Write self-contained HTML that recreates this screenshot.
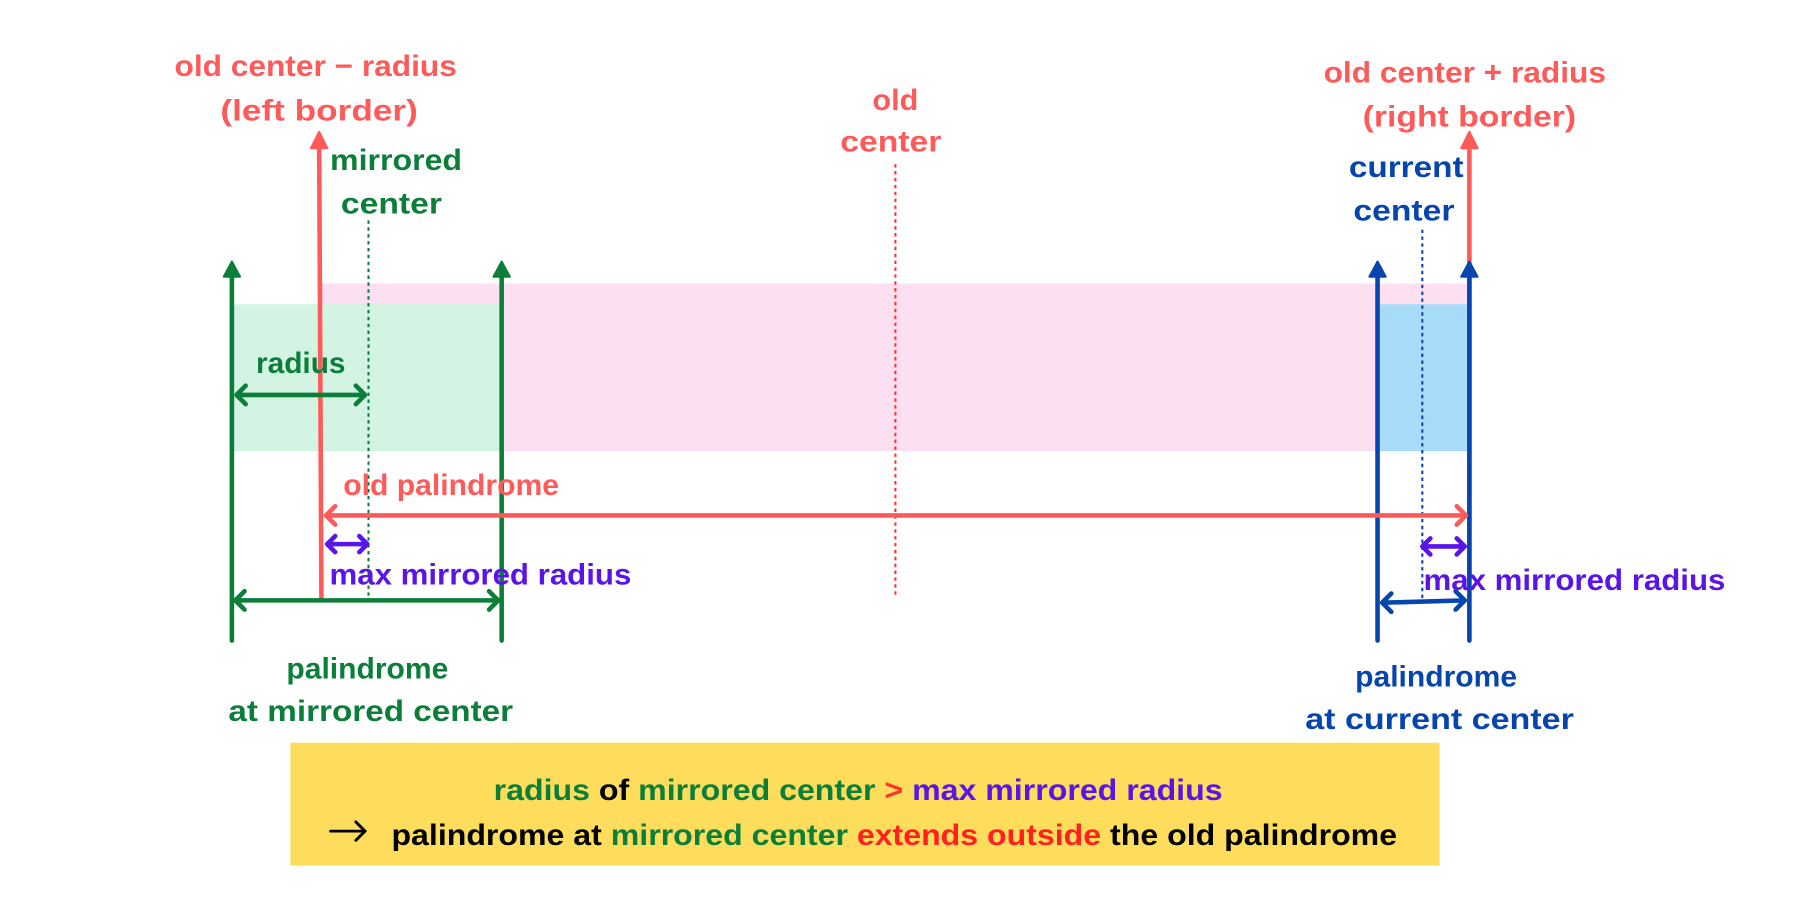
<!DOCTYPE html>
<html><head><meta charset="utf-8"><style>
html,body{margin:0;padding:0;background:#fff;width:1800px;height:900px;overflow:hidden}
svg{display:block}
text{font-family:"Liberation Sans",sans-serif;font-weight:bold;font-size:26px}
</style></head><body>
<svg width="1800" height="900" viewBox="0 0 1568 784" xmlns="http://www.w3.org/2000/svg">
<g>
<rect x="280" y="247" width="1000" height="146" fill="#FDDFF2"/>
<rect x="202" y="265" width="235" height="128" fill="#D3F3E3"/>
<rect x="1200" y="265" width="80" height="128" fill="#A8DBF8"/>
</g>
<g fill="none" stroke-width="1.8" stroke-dasharray="3,3">
<line x1="321" y1="192" x2="321" y2="521" stroke="#0B7F3A"/>
<line x1="780" y1="143" x2="780" y2="521" stroke="#FF3030"/>
<line x1="1239" y1="200" x2="1239" y2="521" stroke="#0645AD"/>
</g>
<g fill="none" stroke-width="4" stroke-linecap="round" stroke-linejoin="round">
<path d="M202,558 V232" stroke="#0B7F3A"/>
<path d="M195,241 L202,228 L209,241 Z" fill="#0B7F3A" stroke="#0B7F3A" stroke-width="2"/>
<path d="M437,558 V232" stroke="#0B7F3A"/>
<path d="M430,241 L437,228 L444,241 Z" fill="#0B7F3A" stroke="#0B7F3A" stroke-width="2"/>
<path d="M280,521 L278,120" stroke="#FF5A5A"/>
<path d="M271,129 L278,115 L285,129 Z" fill="#FF5A5A" stroke="#FF5A5A" stroke-width="2"/>
<path d="M1280,505 V120" stroke="#FF5A5A"/>
<path d="M1273,129 L1280,115 L1287,129 Z" fill="#FF5A5A" stroke="#FF5A5A" stroke-width="2"/>
<path d="M1200,558 V232" stroke="#0645AD"/>
<path d="M1193,241 L1200,228 L1207,241 Z" fill="#0645AD" stroke="#0645AD" stroke-width="2"/>
<path d="M1280,558 V232" stroke="#0645AD"/>
<path d="M1273,241 L1280,228 L1287,241 Z" fill="#0645AD" stroke="#0645AD" stroke-width="2"/>

<path d="M206,344 H318 M214,336 L206,344 L214,352 M310,336 L318,344 L310,352" stroke="#0B7F3A"/>
<path d="M284,449 H1277 M292,441 L284,449 L292,457 M1269,441 L1277,449 L1269,457" stroke="#FF5A5A"/>
<path d="M285,474 H320 M292,467 L285,474 L292,481 M313,467 L320,474 L313,481" stroke="#5B14E8"/>
<path d="M1239,476 H1276 M1246,469 L1239,476 L1246,483 M1269,469 L1276,476 L1269,483" stroke="#5B14E8"/>
<path d="M205,523 H434 M213,515 L205,523 L213,531 M426,515 L434,523 L426,531" stroke="#0B7F3A"/>
<path d="M1204,525 L1276,523 M1212,517 L1204,525 L1212,533 M1268,515 L1276,523 L1268,531" stroke="#0645AD"/>
</g>
<g text-anchor="middle" lengthAdjust="spacingAndGlyphs">
<text x="275" y="66" fill="#FF5A5A" textLength="246" lengthAdjust="spacingAndGlyphs">old center − radius</text>
<text x="278" y="105" fill="#FF5A5A" textLength="172" lengthAdjust="spacingAndGlyphs">(left border)</text>
<text x="345" y="148" fill="#0B7F3A" textLength="115" lengthAdjust="spacingAndGlyphs">mirrored</text>
<text x="341" y="186" fill="#0B7F3A" textLength="88" lengthAdjust="spacingAndGlyphs">center</text>
<text x="780" y="96" fill="#FF5A5A" textLength="40" lengthAdjust="spacingAndGlyphs">old</text>
<text x="776" y="132" fill="#FF5A5A" textLength="88" lengthAdjust="spacingAndGlyphs">center</text>
<text x="1276" y="72" fill="#FF5A5A" textLength="246" lengthAdjust="spacingAndGlyphs">old center + radius</text>
<text x="1280" y="110" fill="#FF5A5A" textLength="186" lengthAdjust="spacingAndGlyphs">(right border)</text>
<text x="1225" y="154" fill="#0645AD" textLength="100" lengthAdjust="spacingAndGlyphs">current</text>
<text x="1223" y="192" fill="#0645AD" textLength="88" lengthAdjust="spacingAndGlyphs">center</text>
<text x="262" y="325" fill="#0B7F3A" textLength="78" lengthAdjust="spacingAndGlyphs">radius</text>
<text x="393" y="431" fill="#FF5A5A" textLength="188" lengthAdjust="spacingAndGlyphs">old palindrome</text>
<text x="320" y="591" fill="#0B7F3A" textLength="141" lengthAdjust="spacingAndGlyphs">palindrome</text>
<text x="323" y="628" fill="#0B7F3A" textLength="248" lengthAdjust="spacingAndGlyphs">at mirrored center</text>
<text x="1251" y="598" fill="#0645AD" textLength="141" lengthAdjust="spacingAndGlyphs">palindrome</text>
<text x="1254" y="635" fill="#0645AD" textLength="234" lengthAdjust="spacingAndGlyphs">at current center</text>
</g>
<text x="287" y="509" fill="#5B14E8" textLength="263" lengthAdjust="spacingAndGlyphs">max mirrored radius</text>
<text x="1240" y="514" fill="#5B14E8" textLength="263" lengthAdjust="spacingAndGlyphs">max mirrored radius</text>
<rect x="253" y="647" width="1001" height="107" fill="#FFDD5C"/>
<text x="430" y="697" textLength="635" lengthAdjust="spacingAndGlyphs"><tspan fill="#0B7F3A">radius </tspan><tspan fill="#000">of </tspan><tspan fill="#0B7F3A">mirrored center </tspan><tspan fill="#FF3030">&gt; </tspan><tspan fill="#5B14E8">max mirrored radius</tspan></text>
<path d="M288,724 H318 M310,716 L318,724 L310,732" fill="none" stroke="#000" stroke-width="2.5" stroke-linecap="round"/>
<text x="341" y="736" textLength="876" lengthAdjust="spacingAndGlyphs"><tspan fill="#000">palindrome at </tspan><tspan fill="#0B7F3A">mirrored center </tspan><tspan fill="#FF2020">extends outside </tspan><tspan fill="#000">the old palindrome</tspan></text>
</svg>
</body></html>
